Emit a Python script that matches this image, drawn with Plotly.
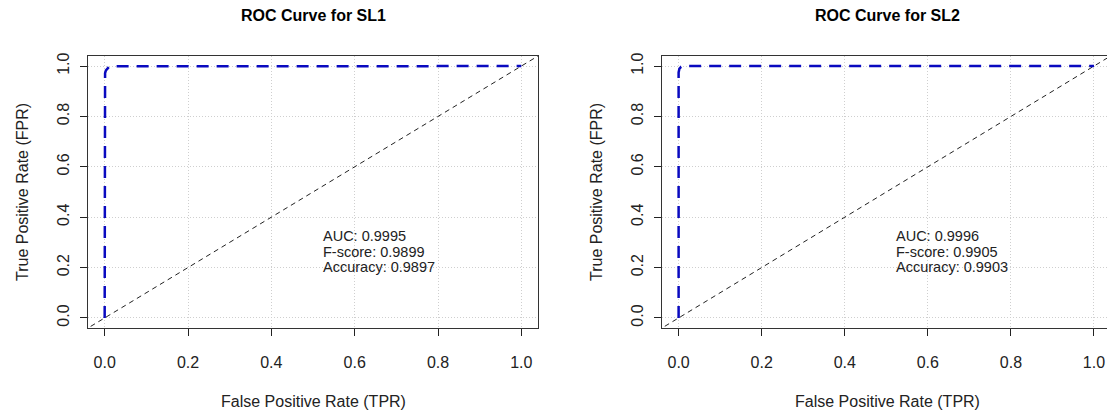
import plotly.graph_objects as go

# ---- data ----
models = ["SL1", "SL2"]
fpr_sl1 = [0.0, 0.0, 0.001, 0.003, 0.006, 0.010, 0.015, 1.0]
tpr_sl1 = [0.0, 0.955, 0.972, 0.983, 0.991, 0.996, 0.999, 1.0]
fpr_sl2 = [0.0, 0.0, 0.002, 0.006, 0.012, 1.0]
tpr_sl2 = [0.0, 0.975, 0.990, 0.997, 1.0, 1.0]
auc_vals = [0.9995, 0.9996]
fscore_vals = [0.9899, 0.9905]
acc_vals = [0.9897, 0.9903]
tick_vals = [0.0, 0.2, 0.4, 0.6, 0.8, 1.0]
tick_text = ["0.0", "0.2", "0.4", "0.6", "0.8", "1.0"]
diag = [-0.2, 1.2]

W, H = 1107, 414
FONT = "Liberation Sans, Arial, sans-serif"

fig = go.Figure()

curves = [(fpr_sl1, tpr_sl1), (fpr_sl2, tpr_sl2)]
for i, (fx, fy) in enumerate(curves):
    xa = "x" if i == 0 else "x2"
    ya = "y" if i == 0 else "y2"
    fig.add_trace(go.Scatter(x=diag, y=diag, mode="lines", xaxis=xa, yaxis=ya,
                             line=dict(color="#222", width=1, dash="5px,4px"),
                             showlegend=False, hoverinfo="skip"))
    fig.add_trace(go.Scatter(x=fx, y=fy, mode="lines", xaxis=xa, yaxis=ya,
                             line=dict(color="#0A0AC0", width=2.5, dash="12px,8px"),
                             showlegend=False))

# pixel layout (screen pixels, origin top-left)
left_dom = [88 / W, 538 / W]
right_dom = [662 / W, 1.0]
ydom = [(H - 328) / H, (H - 56) / H]

axis_common = dict(
    tickvals=tick_vals, ticktext=tick_text, ticks="outside", ticklen=7, tickwidth=1,
    tickcolor="#222", showgrid=True, gridcolor="#cfcfcf", griddash="1px,2px", gridwidth=1,
    zeroline=False, showline=True, linecolor="#333", linewidth=1, automargin=False,
    tickfont=dict(family=FONT, size=16, color="#222"),
)
xaxis_common = dict(axis_common, ticklabelstandoff=13)
yaxis_common = dict(axis_common, ticklabelstandoff=5, tickangle=-90)

fig.update_layout(
    width=W, height=H, margin=dict(l=0, r=0, t=0, b=0, autoexpand=False),
    paper_bgcolor="white", plot_bgcolor="white",
    xaxis=dict(domain=left_dom, range=[-0.04, 1.04], anchor="y", mirror=True, **xaxis_common),
    yaxis=dict(domain=ydom, range=[-0.04, 1.04], anchor="x", mirror=True, **yaxis_common),
    xaxis2=dict(domain=right_dom, range=[-0.04, (W - 679) / 415], anchor="y2", mirror=True, **xaxis_common),
    yaxis2=dict(domain=ydom, range=[-0.04, 1.04], anchor="x2", mirror=False, **yaxis_common),
)

annotations = []
centers = [313, 887]
ylab_x = [23, 597]
line_y = [0.327, 0.263, 0.203]
for i, m in enumerate(models):
    annotations.append(dict(text=f"<b>ROC Curve for {m}</b>", xref="paper", yref="paper",
                            x=centers[i] / W, y=(H - 16) / H, showarrow=False,
                            font=dict(family=FONT, size=16, color="black"),
                            xanchor="center", yanchor="middle"))
    annotations.append(dict(text="False Positive Rate (TPR)", xref="paper", yref="paper",
                            x=centers[i] / W, y=(H - 401) / H, showarrow=False,
                            font=dict(family=FONT, size=16, color="#222"),
                            xanchor="center", yanchor="middle"))
    annotations.append(dict(text="True Positive Rate (FPR)", xref="paper", yref="paper",
                            x=ylab_x[i] / W, y=(H - 192) / H, showarrow=False, textangle=-90,
                            font=dict(family=FONT, size=16, color="#222"),
                            xanchor="center", yanchor="middle"))
    xr = "x" if i == 0 else "x2"
    yr = "y" if i == 0 else "y2"
    lines = [f"AUC: {auc_vals[i]:.4f}", f"F-score: {fscore_vals[i]:.4f}", f"Accuracy: {acc_vals[i]:.4f}"]
    for txt, yy in zip(lines, line_y):
        annotations.append(dict(
            text=txt, xref=xr, yref=yr, x=0.518, y=yy, showarrow=False, align="left",
            xanchor="left", yanchor="middle",
            font=dict(family=FONT, size=14.5, color="#222")))

fig.update_layout(annotations=annotations)
fig.write_html("out.html", config={"displayModeBar": False},
               post_script="document.body.style.margin='0px';")
